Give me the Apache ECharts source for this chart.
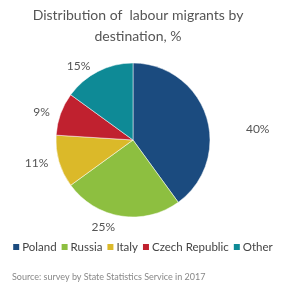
<!DOCTYPE html>
<html>
<head>
<meta charset="utf-8">
<script src="https://cdn.jsdelivr.net/npm/echarts@6/dist/echarts.min.js"></script>
<style>
  html, body { margin: 0; padding: 0; background: #fff; }
  #pie { width: 284px; height: 284px; }
</style>
</head>
<body>
<div id="pie"></div>
<script>
const categories = ["Poland", "Russia", "Italy", "Czech Republic", "Other"];
const shares = [40, 25, 11, 9, 15];
const colors = ["#1b4b7f", "#8dbf40", "#dbb929", "#c0212f", "#0e8a96"];

const myChart = echarts.init(document.getElementById("pie"));
const option = {
  animation: false,
  color: colors,
  title: {
    text: "Distribution of  labour migrants by\ndestination, %",
    left: 133,
    textAlign: "center",
    top: 0,
    textStyle: {
      fontFamily: "Lato",
      fontWeight: "normal",
      fontSize: 14,
      lineHeight: 21,
      color: "#555",
    },
  },
  legend: {
    top: 241,
    left: "center",
    width: 284,
    padding: 0,
    itemWidth: 8,
    itemHeight: 8,
    itemGap: 3,
    icon: "rect",
    textStyle: {
      fontFamily: "Lato",
      fontSize: 11.5,
      color: "#444",
      padding: [0, 0, 0, -3],
    },
    data: categories,
  },
  graphic: [
    {
      type: "text",
      left: 12,
      top: 273,
      style: {
        text: "Source: survey by State Statistics Service in 2017",
        font: "9px Lato",
        fill: "#888",
      },
    },
  ],
  series: [
    {
      type: "pie",
      center: [133, 140],
      radius: [0, 77],
      startAngle: 90,
      clockwise: true,
      label: {
        show: true,
        position: "outside",
        formatter: "{c}%",
        fontFamily: "Lato",
        fontSize: 12,
        color: "#555",
      },
      labelLine: { show: false, length: 6, length2: 0 },
      labelLayout: function (params) {
        if (params.dataIndex === 0) return { dx: 29, dy: 15 };
        if (params.dataIndex === 1) return { dy: 5 };
        return {};
      },
      itemStyle: { borderColor: "#fff", borderWidth: 0.5 },
      data: categories.map((name, i) => ({ name, value: shares[i] })),
    },
  ],
};
myChart.setOption(option);
</script>
</body>
</html>
